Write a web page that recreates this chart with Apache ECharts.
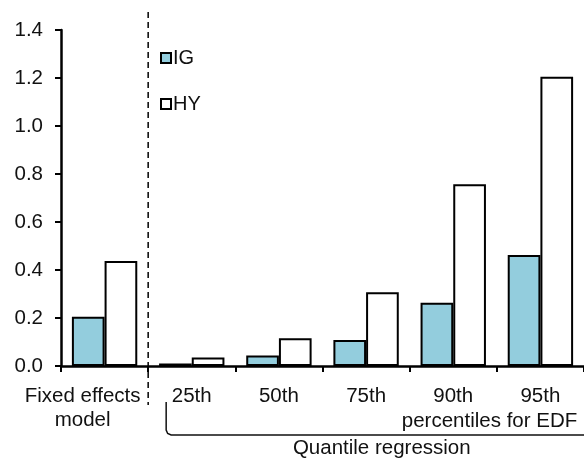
<!DOCTYPE html>
<html>
<head>
<meta charset="utf-8">
<script src="https://cdn.jsdelivr.net/npm/echarts@6/dist/echarts.min.js"></script>
<style>
  html, body { margin: 0; padding: 0; background: #fff; overflow: hidden; }
  #chart { width: 584px; height: 459px; }
</style>
</head>
<body>
<div id="chart"></div>
<script>
// Estimated effects by model and EDF percentile
const categories = ['Fixed effects\nmodel', '25th', '50th', '75th', '90th', '95th'];
const igValues = [0.205, 0.01, 0.044, 0.108, 0.264, 0.463];
const hyValues = [0.438, 0.035, 0.116, 0.307, 0.757, 1.205];
const yTicks = { min: 0, max: 1.4, interval: 0.2 };

const FONT = '"Liberation Sans", Arial, sans-serif';
const FS = 20.5;
const TXT = '#111';

const chart = echarts.init(document.getElementById('chart'), null, { renderer: 'canvas' });

chart.setOption({
  animation: false,
  backgroundColor: '#fff',
  textStyle: { fontFamily: FONT },
  grid: { left: 61, right: -3, top: 30, bottom: 93, containLabel: false },
  legend: {
    orient: 'vertical',
    left: 160,
    top: 48,
    padding: 0,
    itemWidth: 10,
    itemHeight: 10,
    itemGap: 26,
    icon: 'rect',
    textStyle: { fontFamily: FONT, fontSize: 20, color: TXT, padding: [0, 0, 0, -3] },
    data: ['IG', 'HY']
  },
  xAxis: {
    type: 'category',
    data: categories,
    boundaryGap: true,
    axisLine: { lineStyle: { color: '#000', width: 2.5 } },
    axisTick: { show: true, interval: 0, length: 6, lineStyle: { color: '#000', width: 2 } },
    axisLabel: {
      interval: 0,
      margin: 18,
      color: TXT,
      fontFamily: FONT,
      fontSize: FS,
      lineHeight: 24,
      formatter: function (v, i) {
        if (i === 0) {
          return v.split('\n').map(function (s) { return '{fe|' + s + '}'; }).join('\n');
        }
        return v;
      },
      rich: {
        fe: { fontFamily: FONT, fontSize: FS, color: TXT, lineHeight: 24, padding: [0, 44, 0, 0] }
      }
    }
  },
  yAxis: {
    type: 'value',
    min: yTicks.min,
    max: yTicks.max,
    interval: yTicks.interval,
    axisLine: { show: true, lineStyle: { color: '#000', width: 2.5 } },
    axisTick: { show: true, length: 6, lineStyle: { color: '#000', width: 2 } },
    splitLine: { show: false },
    axisLabel: {
      margin: 18,
      color: TXT,
      fontFamily: FONT,
      fontSize: FS,
      formatter: function (v) { return v.toFixed(1); }
    }
  },
  series: [
    {
      name: 'IG',
      type: 'bar',
      data: igValues,
      barGap: '0%',
      barCategoryGap: '25%',
      itemStyle: { color: '#93CDDD', borderColor: '#000', borderWidth: 2 }
    },
    {
      name: 'HY',
      type: 'bar',
      data: hyValues,
      barGap: '0%',
      barCategoryGap: '25%',
      itemStyle: { color: '#ffffff', borderColor: '#000', borderWidth: 2 }
    }
  ]
});

// Separator, bracket and group captions placed from the axis scales
function px(i) { return chart.convertToPixel({ xAxisIndex: 0 }, i); }
function py(v) { return chart.convertToPixel({ yAxisIndex: 0 }, v); }

const c0 = px(0), c1 = px(1), c3 = px(3), c4 = px(4), c5 = px(5);
const w = c1 - c0;
const y0 = py(0), yTop = py(yTicks.max);
const sepX = (c0 + c1) / 2;
const brX = c1 - w / 2 + 18;
const brTop = y0 + 36, brBot = y0 + 69, r = 5;

chart.setOption({
  graphic: [
    {
      type: 'line',
      shape: { x1: sepX, y1: yTop - 18, x2: sepX, y2: y0 + 39 },
      style: { stroke: '#000', lineWidth: 1.5, lineDash: [6, 4] },
      z: 10
    },
    {
      type: 'polyline',
      shape: {
        points: [[brX, brTop], [brX, brBot - r], [brX + 1.5, brBot - 1.5], [brX + r, brBot], [c5 + w, brBot]]
      },
      style: { stroke: '#111', lineWidth: 1.5, fill: null },
      z: 10
    },
    {
      type: 'text',
      x: c4 - w * 0.59,
      y: y0 + 55,
      style: {
        text: 'percentiles for EDF',
        fill: TXT,
        font: FS + 'px ' + FONT,
        textAlign: 'left',
        textVerticalAlign: 'middle'
      },
      z: 10
    },
    {
      type: 'text',
      x: c3 + w * 0.18,
      y: y0 + 82,
      style: {
        text: 'Quantile regression',
        fill: TXT,
        font: FS + 'px ' + FONT,
        textAlign: 'center',
        textVerticalAlign: 'middle'
      },
      z: 10
    }
  ]
});
</script>
</body>
</html>
